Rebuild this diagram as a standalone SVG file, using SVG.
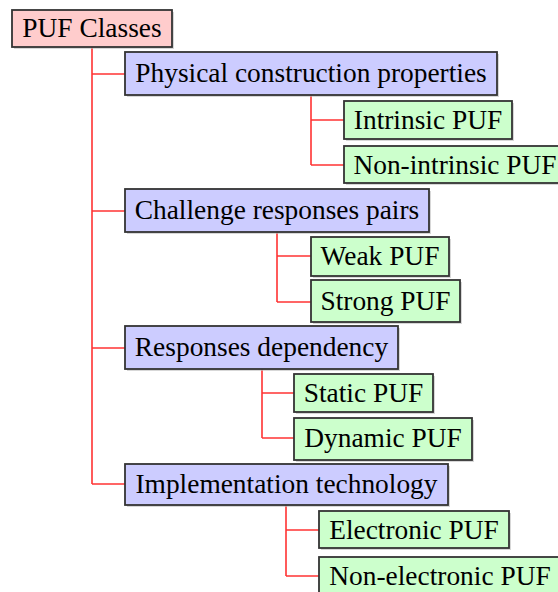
<svg xmlns="http://www.w3.org/2000/svg" width="558" height="592" viewBox="0 0 558 592">
  <style>
    .box { stroke: #333333; stroke-width: 1.8; }
    .root { fill: #ffcccc; }
    .cat { fill: #ccccff; }
    .leaf { fill: #ccffcc; }
    .shadow { fill: #bdbdbd; opacity: 0.6; }
    .label { font-family: "Liberation Serif", "Times New Roman", serif; font-size: 27.4px; fill: #000; text-anchor: middle; }
    .edge { stroke: #ff3333; stroke-width: 1.6; fill: none; }
  </style>

  <!-- tree connectors -->
  <g id="connectors">
    <path class="edge" d="M92,47 V484 M92,74 H125 M92,211 H125 M92,348 H125 M92,484 H125"/>
    <path class="edge" d="M311,95 V165 M311,120 H344 M311,165 H344"/>
    <path class="edge" d="M277,232 V302 M277,256 H311 M277,302 H311"/>
    <path class="edge" d="M262,369 V438 M262,393 H294 M262,438 H294"/>
    <path class="edge" d="M286,505 V576 M286,530 H319 M286,576 H319"/>
  </g>

  <g id="puf-classes">
    <rect class="shadow" x="14" y="12" width="160" height="37"/>
    <rect class="box root" x="12" y="10" width="160" height="37"/>
    <text class="label" x="92" y="37">PUF Classes</text>
  </g>

  <g id="physical-construction">
    <rect class="shadow" x="127" y="54" width="372" height="43"/>
    <rect class="box cat" x="125" y="52" width="372" height="43"/>
    <text class="label" x="311" y="82">Physical construction properties</text>
  </g>
  <g id="intrinsic-puf">
    <rect class="shadow" x="346" y="103" width="168" height="38"/>
    <rect class="box leaf" x="344" y="101" width="168" height="38"/>
    <text class="label" x="428" y="129">Intrinsic PUF</text>
  </g>
  <g id="non-intrinsic-puf">
    <rect class="shadow" x="346" y="148" width="222" height="37"/>
    <rect class="box leaf" x="344" y="146" width="222" height="37"/>
    <text class="label" x="455" y="174">Non-intrinsic PUF</text>
  </g>

  <g id="challenge-responses">
    <rect class="shadow" x="127" y="191" width="304" height="43"/>
    <rect class="box cat" x="125" y="189" width="304" height="43"/>
    <text class="label" x="277" y="219">Challenge responses pairs</text>
  </g>
  <g id="weak-puf">
    <rect class="shadow" x="313" y="239" width="138" height="39"/>
    <rect class="box leaf" x="311" y="237" width="138" height="39"/>
    <text class="label" x="380" y="265">Weak PUF</text>
  </g>
  <g id="strong-puf">
    <rect class="shadow" x="313" y="282" width="149" height="42"/>
    <rect class="box leaf" x="311" y="280" width="149" height="42"/>
    <text class="label" x="385.500" y="310">Strong PUF</text>
  </g>

  <g id="responses-dependency">
    <rect class="shadow" x="127" y="328" width="273" height="43"/>
    <rect class="box cat" x="125" y="326" width="273" height="43"/>
    <text class="label" x="261.500" y="356">Responses dependency</text>
  </g>
  <g id="static-puf">
    <rect class="shadow" x="296" y="376" width="139" height="38"/>
    <rect class="box leaf" x="294" y="374" width="139" height="38"/>
    <text class="label" x="363.500" y="402">Static PUF</text>
  </g>
  <g id="dynamic-puf">
    <rect class="shadow" x="296" y="420" width="178" height="42"/>
    <rect class="box leaf" x="294" y="418" width="178" height="42"/>
    <text class="label" x="383" y="447">Dynamic PUF</text>
  </g>

  <g id="implementation-technology">
    <rect class="shadow" x="127" y="466" width="323" height="41"/>
    <rect class="box cat" x="125" y="464" width="323" height="41"/>
    <text class="label" x="286.500" y="493">Implementation technology</text>
  </g>
  <g id="electronic-puf">
    <rect class="shadow" x="321" y="513" width="190" height="37"/>
    <rect class="box leaf" x="319" y="511" width="190" height="37"/>
    <text class="label" x="414" y="539">Electronic PUF</text>
  </g>
  <g id="non-electronic-puf">
    <rect class="shadow" x="321" y="559" width="242" height="38"/>
    <rect class="box leaf" x="319" y="557" width="242" height="38"/>
    <text class="label" x="440" y="585">Non-electronic PUF</text>
  </g>
</svg>
